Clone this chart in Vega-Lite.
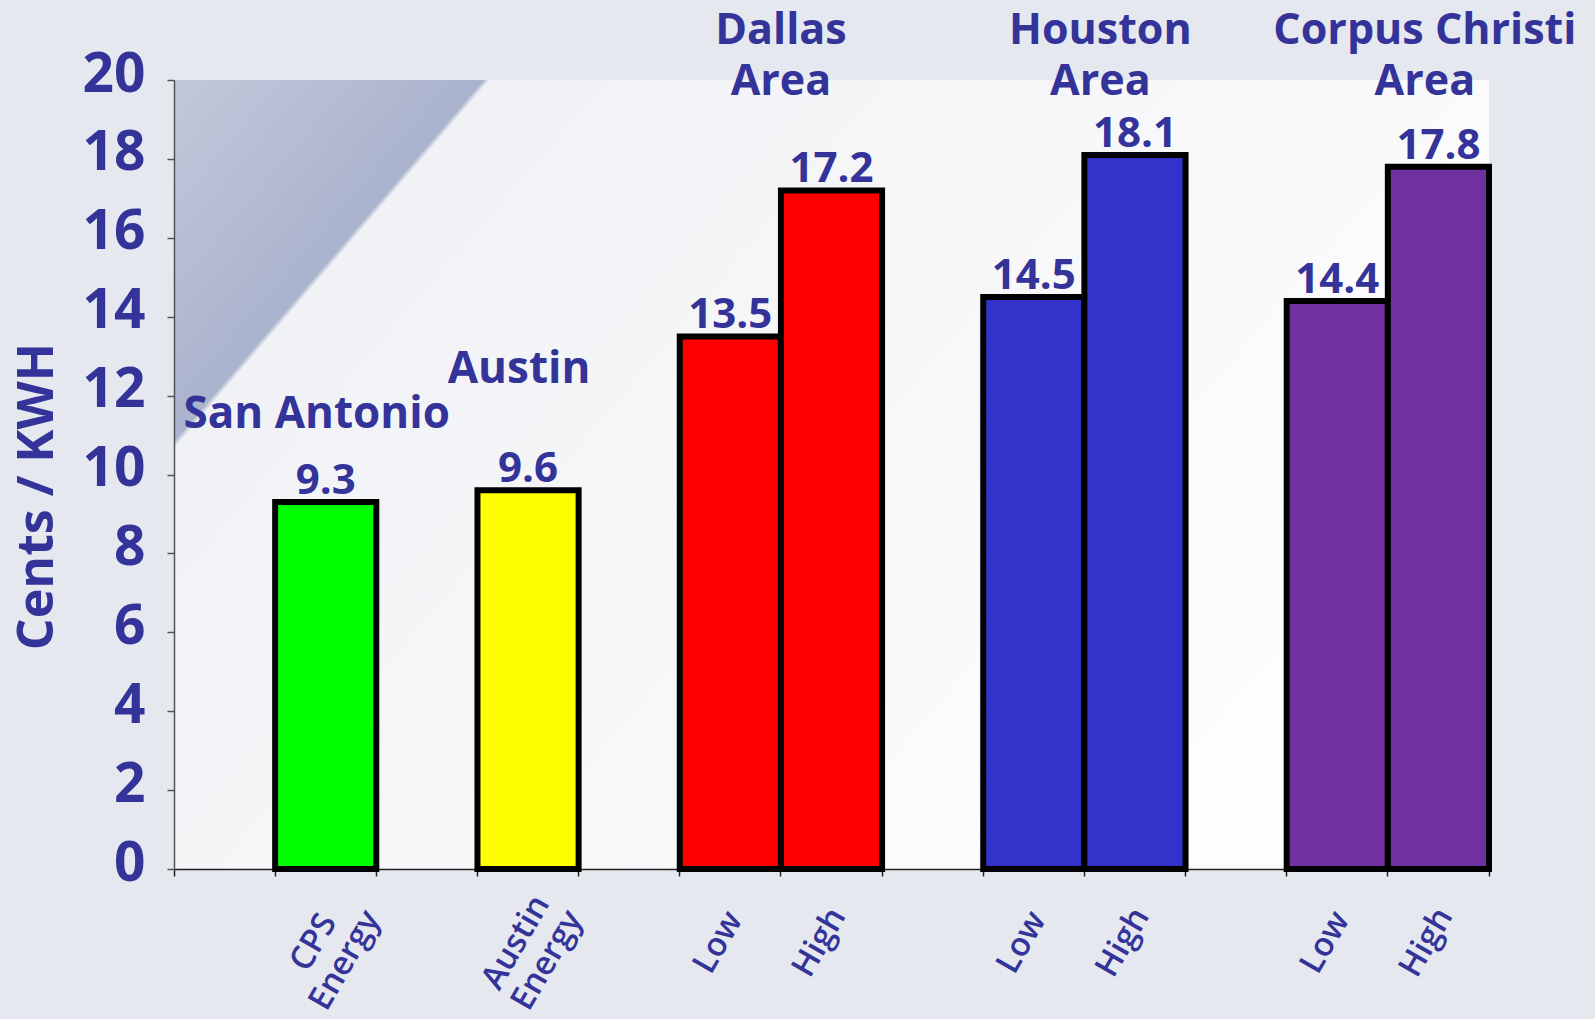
{
  "$schema": "https://vega.github.io/schema/vega-lite/v6.json",
  "width": 1315,
  "height": 789,
  "autosize": {"type": "none"},
  "padding": {"left": 174, "top": 80, "right": 106, "bottom": 150},
  "background": "#e5e8ef",
  "config": {
    "view": {
      "stroke": null,
      "fill": {
        "gradient": "linear",
        "x1": 0, "y1": 0, "x2": 1, "y2": 0.514,
        "stops": [
          {"offset": 0, "color": "#c3c8da"},
          {"offset": 0.186, "color": "#aab3cd"},
          {"offset": 0.19, "color": "#f1f2f6"},
          {"offset": 0.55, "color": "#f7f7f9"},
          {"offset": 1, "color": "#fdfdfe"}
        ]
      }
    },
    "text": {"font": "Open Sans", "fontWeight": "bold", "color": "#333399"}
  },
  "datasets": {
    "bars": [
      {"cat": "CPS Energy", "group": "San Antonio", "value": 9.3},
      {"cat": "Austin Energy", "group": "Austin", "value": 9.6},
      {"cat": "Dallas Low", "group": "Dallas", "value": 13.5},
      {"cat": "Dallas High", "group": "Dallas", "value": 17.2},
      {"cat": "Houston Low", "group": "Houston", "value": 14.5},
      {"cat": "Houston High", "group": "Houston", "value": 18.1},
      {"cat": "Corpus Low", "group": "Corpus Christi", "value": 14.4},
      {"cat": "Corpus High", "group": "Corpus Christi", "value": 17.8}
    ],
    "notes": [
      {"text": "San Antonio", "cat": "CPS Energy", "y": 11.19, "kind": "single"},
      {"text": "Austin", "cat": "Austin Energy", "y": 12.33, "kind": "single"},
      {"text": "Dallas|Area", "cat": "Dallas High", "y": 20.9, "kind": "dallas"},
      {"text": "Houston|Area", "cat": "Houston High", "y": 20.9, "kind": "houston"},
      {"text": "Corpus Christi|Area", "cat": "Corpus High", "y": 20.9, "kind": "corpus"}
    ]
  },
  "layer": [
    {
      "data": {"name": "bars"},
      "mark": {"type": "bar", "stroke": "#000000", "strokeWidth": 6},
      "encoding": {
        "x": {
          "field": "cat",
          "type": "nominal",
          "scale": {
            "domain": ["_e0", "CPS Energy", "_e1", "Austin Energy", "_e2", "Dallas Low", "Dallas High", "_e3", "Houston Low", "Houston High", "_e4", "Corpus Low", "Corpus High"],
            "paddingInner": 0,
            "paddingOuter": 0
          },
          "axis": {
            "title": null,
            "bandPosition": 1,
            "tickExtra": true,
            "domainColor": "#222222",
            "domainWidth": 1.5,
            "tickColor": "#222222",
            "tickWidth": 1.5,
            "tickSize": 7,
            "labelExpr": "datum.value == 'CPS Energy' ? ['CPS', 'Energy'] : datum.value == 'Austin Energy' ? ['Austin', 'Energy'] : (datum.value == 'Dallas Low' || datum.value == 'Houston Low' || datum.value == 'Corpus Low') ? 'Low' : (datum.value == 'Dallas High' || datum.value == 'Houston High' || datum.value == 'Corpus High') ? 'High' : ''",
            "labelAngle": -60,
            "labelAlign": "center",
            "labelBaseline": "middle",
            "labelOffset": -12,
            "labelPadding": 66,
            "labelFont": "Open Sans",
            "labelFontWeight": 600,
            "labelFontSize": 33,
            "labelLineHeight": 36,
            "labelColor": "#333399",
            "labelOverlap": false
          }
        },
        "y": {
          "field": "value",
          "type": "quantitative",
          "scale": {"domain": [0, 20], "nice": false},
          "axis": {
            "title": "Cents / KWH",
            "values": [0, 2, 4, 6, 8, 10, 12, 14, 16, 18, 20],
            "grid": false,
            "domainColor": "#555555",
            "domainWidth": 1.5,
            "tickColor": "#555555",
            "tickWidth": 1.5,
            "tickSize": 7,
            "labelFont": "Open Sans",
            "labelFontWeight": "bold",
            "labelFontSize": 55,
            "labelColor": "#333399",
            "labelPadding": 22,
            "labelOffset": -6,
            "titleFont": "Open Sans",
            "titleFontWeight": "bold",
            "titleFontSize": 50,
            "titleColor": "#333399",
            "titleAngle": -90,
            "titleAlign": "center",
            "titleBaseline": "alphabetic",
            "titleX": -122,
            "titleY": 416
          }
        },
        "color": {
          "field": "group",
          "type": "nominal",
          "scale": {
            "domain": ["San Antonio", "Austin", "Dallas", "Houston", "Corpus Christi"],
            "range": ["#00ff00", "#ffff00", "#ff0000", "#3333cc", "#7030a0"]
          },
          "legend": null
        }
      }
    },
    {
      "data": {"name": "bars"},
      "mark": {"type": "text", "baseline": "alphabetic", "align": "center", "dy": -8, "fontSize": 42},
      "encoding": {
        "x": {"field": "cat", "type": "nominal"},
        "y": {"field": "value", "type": "quantitative"},
        "text": {"field": "value", "type": "quantitative", "format": ".1f"}
      }
    },
    {
      "data": {"name": "notes"},
      "transform": [{"filter": "datum.kind == 'single'"}],
      "mark": {"type": "text", "baseline": "alphabetic", "align": "center", "fontSize": 44, "dx": -9},
      "encoding": {
        "x": {"field": "cat", "type": "nominal", "bandPosition": 0.5},
        "y": {"field": "y", "type": "quantitative"},
        "text": {"field": "text"}
      }
    },
    {
      "data": {"name": "notes"},
      "transform": [{"filter": "datum.kind == 'dallas'"}],
      "mark": {"type": "text", "baseline": "alphabetic", "align": "center", "fontSize": 43, "lineBreak": "|", "lineHeight": 51, "dx": 0},
      "encoding": {
        "x": {"field": "cat", "type": "nominal", "bandPosition": 0},
        "y": {"field": "y", "type": "quantitative"},
        "text": {"field": "text"}
      }
    },
    {
      "data": {"name": "notes"},
      "transform": [{"filter": "datum.kind == 'houston'"}],
      "mark": {"type": "text", "baseline": "alphabetic", "align": "center", "fontSize": 43, "lineBreak": "|", "lineHeight": 51, "dx": 16},
      "encoding": {
        "x": {"field": "cat", "type": "nominal", "bandPosition": 0},
        "y": {"field": "y", "type": "quantitative"},
        "text": {"field": "text"}
      }
    },
    {
      "data": {"name": "notes"},
      "transform": [{"filter": "datum.kind == 'corpus'"}],
      "mark": {"type": "text", "baseline": "alphabetic", "align": "center", "fontSize": 43, "lineBreak": "|", "lineHeight": 51, "dx": 37},
      "encoding": {
        "x": {"field": "cat", "type": "nominal", "bandPosition": 0},
        "y": {"field": "y", "type": "quantitative"},
        "text": {"field": "text"}
      }
    }
  ]
}
